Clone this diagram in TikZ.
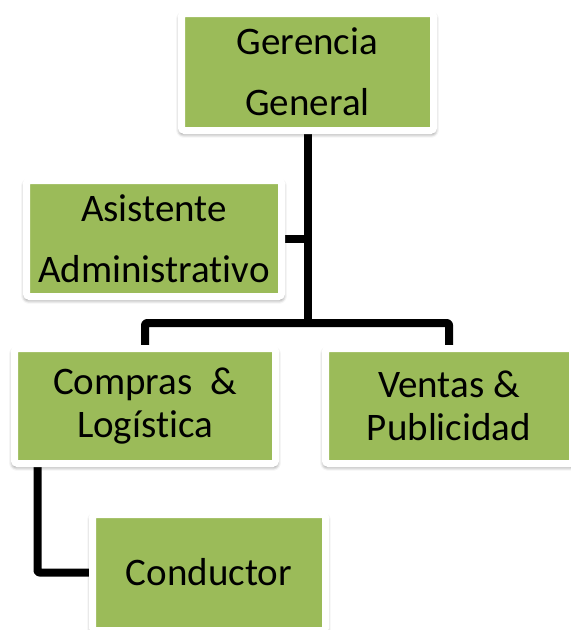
\documentclass[tikz,border=0pt]{standalone}
\usepackage{fontspec}
\setmainfont{Carlito}[Ligatures=NoCommon]
\usepackage{xcolor}
\definecolor{orggreen}{HTML}{9BBB59}
\usetikzlibrary{positioning,shadows.blur,backgrounds,calc}

\begin{document}
\begin{tikzpicture}[
  x=1pt, y=-1pt,
  unit/.style={rectangle, rounded corners=3pt, draw=white, line width=7pt,
               fill=orggreen, inner sep=0pt, align=center, text=black,
               blur shadow={shadow xshift=0pt, shadow yshift=-2.5pt, shadow scale=1.01,
                            shadow blur radius=4pt, shadow opacity=60}},
  tall/.style={font=\fontsize{39}{61}\selectfont},
  flat/.style={font=\fontsize{39}{43}\selectfont},
  link/.style={line width=8pt, black, line join=round, rounded corners=2pt},
]
\useasboundingbox (0,0) rectangle (571,630);

% ---------- the boxes
\node[unit, tall, minimum width=252pt, minimum height=117pt] (ger) at (307.5,72) {Gerencia\\General};
\node[unit, tall, minimum width=255pt, minimum height=116pt] (asis) at (154,238.5) {Asistente\\Administrativo};
\node[unit, flat, minimum width=261pt, minimum height=115pt] (comp) at (145,406) {Compras\ \ \&\\Logística};
\node[unit, flat, minimum width=247pt, minimum height=115pt] (vent) at (449,406) {Ventas \&\\Publicidad};
\node[unit, flat, minimum width=233pt, minimum height=116pt] (cond) at (209,572.5) {Conductor};

% ---------- the connectors, behind the boxes
\coordinate (bus) at (307.5,323);
\coordinate (drop) at ($(comp.south west)+(26.5,0)$);
\begin{scope}[on background layer]
  \draw[link] (ger.south) -- (bus);
  \draw[link] (asis.east) -- (asis.east -| bus);
  \draw[link] (comp.north) |- (bus) -| (vent.north);
  \draw[link] (drop) |- (cond.west);
\end{scope}
\end{tikzpicture}
\end{document}
